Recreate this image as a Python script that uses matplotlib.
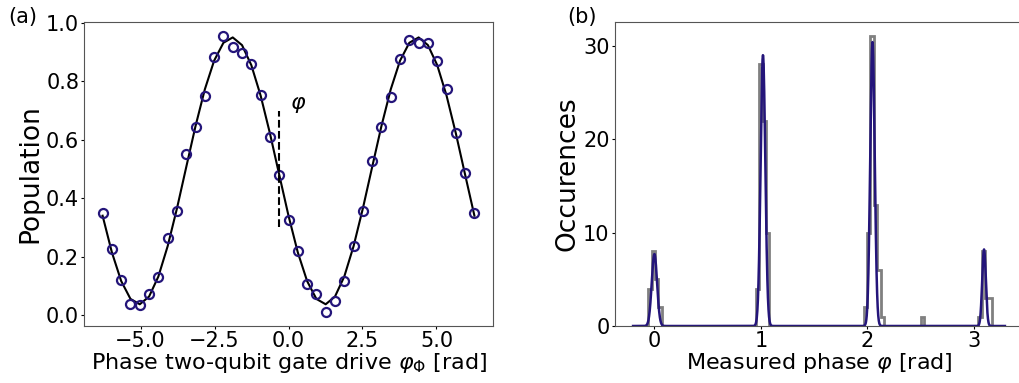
import numpy as np
import matplotlib
matplotlib.use('Agg')
import matplotlib.pyplot as plt

# Panel (a): population vs drive phase (41 points from -2pi to 2pi)
n_points = 41
population = [0.351, 0.227, 0.121, 0.038, 0.035, 0.072, 0.131, 0.264, 0.356, 0.551,
              0.643, 0.749, 0.885, 0.956, 0.919, 0.896, 0.860, 0.752, 0.609, 0.479,
              0.325, 0.221, 0.108, 0.072, 0.010, 0.047, 0.118, 0.236, 0.356, 0.527,
              0.645, 0.746, 0.877, 0.942, 0.931, 0.933, 0.869, 0.774, 0.624, 0.486,
              0.351]
xticks_a = [-5.0, -2.5, 0.0, 2.5, 5.0]
yticks_a = [0.0, 0.2, 0.4, 0.6, 0.8, 1.0]
phi_marker_x = -0.31
phi_marker_y = [0.30, 0.70]

# Panel (b): histogram of measured phases
bin_start = -0.058
bin_width = 0.0316
n_bins = 102
bin_index = [0, 1, 2, 3, 32, 33, 34, 35, 64, 65, 66, 67, 68, 69, 81, 98, 99, 100, 101]
counts = [4, 8, 5, 2, 4, 28, 22, 10, 2, 10, 31, 13, 6, 1, 1, 1, 8, 3, 3]
xticks_b = [0, 1, 2, 3]
yticks_b = [0, 10, 20, 30]

# gaussian fit parameters
peak_center = [0.000, 1.019, 2.047, 3.094]
peak_height = [7.7, 29.0, 30.4, 8.2]
peak_sigma = [0.025, 0.022, 0.021, 0.017]
fit_range = [-0.2, 3.29]

BLUE = '#24157a'
plt.rcParams['font.family'] = ['DejaVu Sans']
plt.rcParams['axes.edgecolor'] = '#555555'
plt.rcParams['font.size'] = 15
plt.rcParams['xtick.major.size'] = 2
plt.rcParams['ytick.major.size'] = 2
plt.rcParams['xtick.major.pad'] = 1.5
plt.rcParams['ytick.major.pad'] = 1.5
plt.rcParams['axes.labelpad'] = 2

fig = plt.figure(figsize=(10.19, 3.83), dpi=100)
ax1 = fig.add_axes([84 / 1019, 57 / 383, 409 / 1019, 304 / 383])
ax2 = fig.add_axes([614.5 / 1019, 57 / 383, 409 / 1019, 304 / 383])

# (a)
x = np.linspace(-2 * np.pi, 2 * np.pi, n_points)
y = np.array(population)
A = np.column_stack([np.ones_like(x), np.cos(x), np.sin(x)])
coef, *_ = np.linalg.lstsq(A, y, rcond=None)
ax1.plot(x, A @ coef, color='black', lw=1.5)
ax1.plot(x, y, 'o', mfc='none', mec=BLUE, mew=1.6, ms=6.5)
ax1.vlines(phi_marker_x, phi_marker_y[0], phi_marker_y[1], colors='black',
           linestyles='--', lw=1.5)
ax1.text(0.33, 0.72, r'$\varphi$', fontsize=16, ha='center', va='center')
ax1.set_xticks(xticks_a)
ax1.set_yticks(yticks_a)
ax1.set_xlabel(r'Phase two-qubit gate drive $\varphi_\Phi$ [rad]', fontsize=16, labelpad=0)
ax1.set_ylabel('Population', fontsize=19)

# (b)
edges = bin_start + bin_width * np.arange(n_bins + 1)
centers = (edges[:-1] + edges[1:]) / 2
ax2.hist(centers[bin_index], bins=edges, weights=counts, histtype='step',
         color='grey', lw=2)
xf = np.linspace(fit_range[0], fit_range[1], 2000)
yf = np.zeros_like(xf)
for c, h, s in zip(peak_center, peak_height, peak_sigma):
    yf += h * np.exp(-(xf - c) ** 2 / (2 * s ** 2))
ax2.plot(xf, yf, color=BLUE, lw=1.8)
ax2.set_xticks(xticks_b)
ax2.set_yticks(yticks_b)
ax2.set_xlabel(r'Measured phase $\varphi$ [rad]', fontsize=16, labelpad=0)
ax2.set_ylabel('Occurences', fontsize=19)

fig.text(0.008, 0.955, '(a)', fontsize=15, va='center')
fig.text(0.557, 0.955, '(b)', fontsize=15, va='center')

fig.savefig('out.png', dpi=100)
